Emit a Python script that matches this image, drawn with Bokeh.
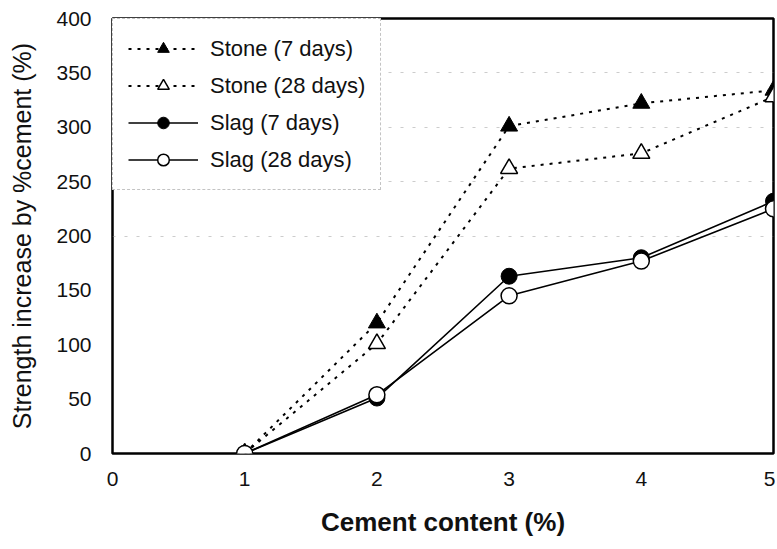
from bokeh.plotting import figure
from bokeh.models import Legend, LegendItem, FixedTicker, Grid, Range1d
from bokeh.embed import file_html
from bokeh.resources import INLINE

cement = [1, 2, 3, 4, 5]
stone_7 = [0, 120, 301, 322, 334]
stone_28 = [0, 101, 262, 276, 328]
slag_7 = [0, 51, 163, 180, 232]
slag_28 = [0, 54, 145, 177, 225]
x_ticks = [0, 1, 2, 3, 4, 5]
y_ticks = [0, 50, 100, 150, 200, 250, 300, 350, 400]

p = figure(width=775, height=547, output_backend="svg", toolbar_location=None,
           x_range=Range1d(0, 5), y_range=Range1d(0, 400),
           min_border_left=112, min_border_top=18, min_border_bottom=94, min_border_right=2)
p.background_fill_color = "white"
p.border_fill_color = "white"
p.outline_line_color = "black"
p.outline_line_width = 2.5
p.xgrid.visible = False
p.ygrid.visible = False

g = Grid(dimension=1, ticker=FixedTicker(ticks=[200, 250, 300, 350]),
         grid_line_color="#999999", grid_line_alpha=0.5, grid_line_dash="3 9", grid_line_width=1)
p.add_layout(g)

for ax in (p.xaxis[0], p.yaxis[0]):
    ax.axis_line_color = None
    ax.major_tick_line_color = None
    ax.minor_tick_line_color = None
    ax.major_label_text_font = "Liberation Sans"
    ax.major_label_text_font_size = "21px"
    ax.major_label_text_color = "#111111"
    ax.axis_label_text_font = "Liberation Sans"
    ax.axis_label_text_color = "#111111"

p.xaxis.ticker = FixedTicker(ticks=x_ticks)
p.yaxis.ticker = FixedTicker(ticks=y_ticks)
p.xaxis.major_label_standoff = 12
p.yaxis.major_label_standoff = 15
p.xaxis.axis_label = "Cement content (%)"
p.xaxis.axis_label_text_font_size = "26px"
p.xaxis.axis_label_text_font_style = "bold"
p.xaxis.axis_label_standoff = 18
p.yaxis.axis_label = "Strength increase by %cement (%)"
p.yaxis.axis_label_text_font_size = "25px"
p.yaxis.axis_label_text_font_style = "normal"
p.yaxis.axis_label_standoff = 17

dot = "3 6"
l1 = p.line(cement, stone_7, line_color="black", line_width=2, line_dash=dot)
m1 = p.scatter(cement, stone_7, marker="triangle", size=17, fill_color="black", line_color="black")
l2 = p.line(cement, stone_28, line_color="black", line_width=2, line_dash=dot)
m2 = p.scatter(cement, stone_28, marker="triangle", size=17, fill_color="white", line_color="black", line_width=1.5)
l3 = p.line(cement, slag_7, line_color="black", line_width=1.6)
m3 = p.scatter(cement, slag_7, marker="circle", size=16, fill_color="black", line_color="black")
l4 = p.line(cement, slag_28, line_color="black", line_width=1.6)
m4 = p.scatter(cement, slag_28, marker="circle", size=16, fill_color="white", line_color="black", line_width=1.5)

legend = Legend(items=[
    LegendItem(label="Stone (7 days)", renderers=[l1, m1]),
    LegendItem(label="Stone (28 days)", renderers=[l2, m2]),
    LegendItem(label="Slag (7 days)", renderers=[l3, m3]),
    LegendItem(label="Slag (28 days)", renderers=[l4, m4]),
], location="top_left")
legend.label_text_font = "Liberation Sans"
legend.label_text_font_size = "22px"
legend.label_text_color = "#111111"
legend.glyph_width = 70
legend.glyph_height = 29
legend.spacing = 8
legend.padding = 15
legend.margin = 0
legend.label_standoff = 12
legend.border_line_color = "#888888"
legend.border_line_dash = "2 6"
legend.border_line_width = 1
legend.background_fill_alpha = 1
p.add_layout(legend)

open("out.html", "w").write(file_html(p, INLINE))
